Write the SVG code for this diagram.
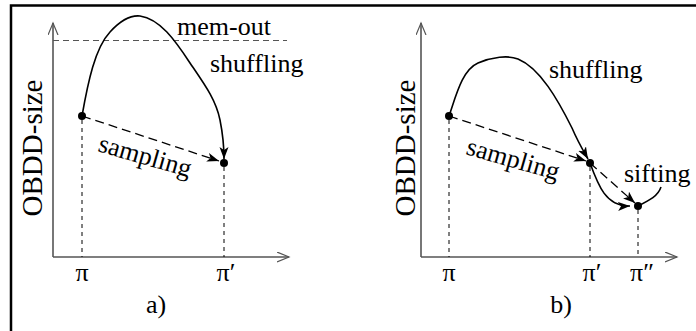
<svg xmlns="http://www.w3.org/2000/svg" width="696" height="331" viewBox="0 0 696 331">
<defs>
<marker id="ah" markerUnits="userSpaceOnUse" markerWidth="14" markerHeight="10" refX="12" refY="4.5" orient="auto">
<path d="M0,0 L12,4.5 L0,9 L3,4.5 z" fill="#000"/>
</marker>
<marker id="ax" markerUnits="userSpaceOnUse" markerWidth="14" markerHeight="12" refX="12" refY="5" orient="auto">
<path d="M0,0 L12,5 L0,10" fill="none" stroke="#555" stroke-width="1.2"/>
</marker>
</defs>
<style>
.axis{stroke:#555;stroke-width:1.6;fill:none}
.vd{stroke:#000;stroke-width:1;stroke-dasharray:4,4;fill:none}
.sd{stroke:#000;stroke-width:1.3;stroke-dasharray:9,5;fill:none}
.cv{stroke:#000;stroke-width:1.6;fill:none}
</style>
<rect width="696" height="331" fill="#fff"/>
<path d="M11,331 V5.5 H696" fill="none" stroke="#000" stroke-width="2.5"/>

<g id="panel-a">
<g id="axes-a">
<path class="axis" d="M53,257 V23" marker-end="url(#ax)"/>
<path class="axis" d="M53,257 H289" marker-end="url(#ax)"/>
<text x="42" y="148" font-family="serif" font-size="29" transform="rotate(-90 42 148)" text-anchor="middle">OBDD-size</text>
</g>
<g id="memout-a">
<path d="M53,40.5 H287" stroke="#555" stroke-width="1.2" stroke-dasharray="6,4" fill="none"/>
<text x="177" y="35" font-family="serif" font-size="26">mem-out</text>
</g>
<g id="pi-a">
<circle cx="82" cy="116" r="4"/>
<text x="82" y="281" font-family="serif" font-size="26" text-anchor="middle">π</text>
</g>
<g id="pi1-a">
<circle cx="224" cy="163" r="4"/>
<text x="226" y="281" font-family="serif" font-size="26" text-anchor="middle">π′</text>
</g>
<text x="156" y="313" font-family="serif" font-size="26" text-anchor="middle">a)</text>
<text x="210" y="72" font-family="serif" font-size="26">shuffling</text>
<text x="97" y="151" font-family="serif" font-size="26" transform="rotate(16 97 151)">sampling</text>
<g id="connectors-a">
<path class="vd" d="M82,120 V257"/>
<path class="vd" d="M224,167 V257"/>
<path class="sd" d="M82,116 L219,161" marker-end="url(#ah)"/>
<path class="cv" d="M82,116 C88,82 95,48 110,32 C120,21 130,15 140,16 C160,19 175,40 190,63 C205,85 216,100 220,120 C223,135 224,148 224,159" marker-end="url(#ah)"/>
</g>
</g>

<g id="panel-b">
<g id="axes-b">
<path class="axis" d="M421,257 V23" marker-end="url(#ax)"/>
<path class="axis" d="M421,257 H677" marker-end="url(#ax)"/>
<text x="415" y="148" font-family="serif" font-size="29" transform="rotate(-90 415 148)" text-anchor="middle">OBDD-size</text>
</g>
<g id="pi-b">
<circle cx="449" cy="116" r="4"/>
<text x="449" y="281" font-family="serif" font-size="26" text-anchor="middle">π</text>
</g>
<g id="pi1-b">
<circle cx="590" cy="163" r="4"/>
<text x="592" y="281" font-family="serif" font-size="26" text-anchor="middle">π′</text>
</g>
<g id="pi2-b">
<circle cx="638" cy="206" r="4"/>
<text x="642" y="281" font-family="serif" font-size="26" text-anchor="middle">π″</text>
</g>
<text x="561" y="313" font-family="serif" font-size="26" text-anchor="middle">b)</text>
<text x="549" y="78" font-family="serif" font-size="26">shuffling</text>
<text x="624" y="182" font-family="serif" font-size="26">sifting</text>
<text x="465" y="154" font-family="serif" font-size="26" transform="rotate(16 465 154)">sampling</text>
<g id="connectors-b">
<path class="vd" d="M449,120 V257"/>
<path class="vd" d="M590,167 V257"/>
<path class="vd" d="M638,210 V257"/>
<path class="sd" d="M449,116 L586,161" marker-end="url(#ah)"/>
<path class="sd" d="M590,163 L635,203" marker-end="url(#ah)"/>
<path class="cv" d="M449,116 C456,96 462,70 478,63 C492,57 508,55 518,59 C540,68 558,100 572,128 C578,142 584,152 588,159" marker-end="url(#ah)"/>
<path class="cv" d="M590,163 C598,185 606,207 630,206" marker-end="url(#ah)"/>
<path class="cv" d="M638,206 C650,200 658,196 661,187"/>
</g>
</g>
</svg>
